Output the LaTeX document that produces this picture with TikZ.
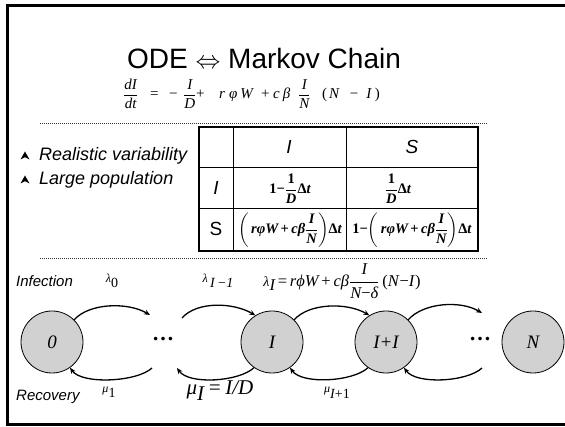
\documentclass[tikz,border=0pt]{standalone}
\usepackage{amsmath}
\usepackage{fontspec}
\setmainfont{Liberation Sans}
\newfontfamily\tms{Liberation Serif}
\usetikzlibrary{arrows.meta}
\newcommand{\tv}[1]{\text{\tms\itshape #1}}
\newcommand{\tu}[1]{\text{\tms #1}}
\newcommand{\tb}[1]{\text{\tms\bfseries\itshape #1}}
\newcommand{\tbu}[1]{\text{\tms\bfseries #1}}
\newcommand{\fs}[1]{\fontsize{#1}{#1}\selectfont}
\tikzset{
  frame/.style={line width=3pt, draw=black},
  dashline/.style={line width=0.6pt, draw=black!80, dash pattern=on 1.2pt off 0.8pt},
  state/.style={circle, draw=black, line width=0.8pt, fill=black!18, minimum size=62pt, inner sep=0pt, font=\tms\itshape\fs{19}},
  dotsnode/.style={inner sep=0pt, font=\tms\bfseries\fs{22}},
  trans/.style={line width=1.3pt, -{Stealth[length=6pt,width=5pt]}},
  lbl/.style={inner sep=0pt, font=\fs{15}\itshape},
  bul/.style={inner sep=0pt, font=\fs{18}\itshape, anchor=base west},
  cell/.style={inner sep=0pt, font=\fs{14.5}},
  hdr/.style={inner sep=0pt, font=\fs{19}\itshape},
  eqp/.style={inner sep=0pt, anchor=base west, font=\tms\fs{15}},
  glbl/.style={inner sep=0pt, font=\tms\itshape\fs{14}},
  tline/.style={line width=1pt},
  touter/.style={line width=1.8pt}
}
\begin{document}
\begin{tikzpicture}[x=1pt,y=-1pt]
\useasboundingbox (0,0) rectangle (565,427);
\fill[white] (0,0) rectangle (565,427);
\draw[frame] (7,6) rectangle (600,425);
% title
\node[anchor=base, inner sep=0pt, font=\fs{28}] (title) at (264,69) {ODE $\Leftrightarrow$ Markov Chain};
% equation pieces
\node[eqp] (e1) at (123,99) {$\displaystyle\frac{\tv{dI}}{\tv{dt}}$};
\node[eqp] (e2) at (150,99) {=};
\node[eqp] (e3) at (169,99) {−};
\node[eqp] (e4) at (183,99) {$\displaystyle\frac{\tv{I}}{\tv{D}}$};
\node[eqp] (e5) at (196,99) {+};
\node[eqp] (e6) at (219,99) {\itshape r\hspace{4pt}φ\hspace{3pt}W};
\node[eqp] (e7) at (261,99) {+};
\node[eqp] (e8) at (273,99) {\itshape c\hspace{3pt}β};
\node[eqp] (e9) at (298,99) {$\displaystyle\frac{\tv{I}}{\tv{N}}$};
\node[eqp] (e10) at (322,99) {(\hspace{2pt}\textit{N}\hspace{10pt}−\hspace{8pt}\textit{I}\hspace{3pt})};
% dashed lines
\coordinate (dl1a) at (40,123); \coordinate (dl1b) at (487,123);
\coordinate (dl2a) at (40,258); \coordinate (dl2b) at (487,258);
\draw[dashline] (dl1a) -- (dl1b);
\draw[dashline] (dl2a) -- (dl2b);
% bullets
\foreach \yy in {156,180}{
  \fill (25,\yy-4.5) -- (29.5,\yy+3.5) -- (25,\yy+1.2) -- (20.5,\yy+3.5) -- cycle;
}
\node[bul] (t1) at (39,161) {Realistic variability};
\node[bul] (t2) at (39,185) {Large population};
% table
\coordinate (tA) at (199,127); \coordinate (tB) at (478,251);
\draw[tline] (233,127) -- (233,251);
\draw[tline] (346,127) -- (346,251);
\draw[tline] (199,168) -- (478,168);
\draw[tline] (199,209) -- (478,209);
\draw[touter] (tA) rectangle (tB);
\node[hdr] (hI) at (289,147) {I};
\node[hdr] (hS) at (412,147) {S};
\node[hdr] (rI) at (216,188) {I};
\node[hdr, font=\fs{19}] (rS) at (216,229) {S};
\node[cell] (c11) at (290,189) {$\displaystyle \tbu{1−}\frac{\tbu{1}}{\tb{D}}\tbu{Δ}\tb{t}$};
\node[cell] (c12) at (398,189) {$\displaystyle \frac{\tbu{1}}{\tb{D}}\tbu{Δ}\tb{t}$};
\node[cell] (c21) at (290,230) {$\displaystyle \left(\,\tb{r}\tb{φ}\tb{W}\,\tbu{+}\,\tb{c}\tb{β}\frac{\tb{I}}{\tb{N}}\right)\!\tbu{Δ}\tb{t}$};
\node[cell] (c22) at (412,230) {$\displaystyle \tbu{1−}\!\left(\,\tb{r}\tb{φ}\tb{W}\,\tbu{+}\,\tb{c}\tb{β}\frac{\tb{I}}{\tb{N}}\right)\!\tbu{Δ}\tb{t}$};
% chain
\node[state] (n0) at (52,342) {0};
\node[state] (nI) at (272,342) {I};
\node[state] (nJ) at (386,342) {I+I};
\node[state] (nN) at (533,342) {N};
\node[dotsnode] (d1) at (163,339) {…};
\node[dotsnode] (d2) at (480,339) {…};
\coordinate (d1tr) at (150,315);
\coordinate (d1tl) at (182,318);
\coordinate (d2tr) at (482,313);
\coordinate (d1br) at (152,368);
\coordinate (d1bl) at (177,368);
\coordinate (d2br) at (482,368);
% infection arrows
\draw[trans] (n0.45) .. controls +(15,-17) and +(-22,-13) .. (d1tr);
\draw[trans] (d1tl) .. controls +(15,-17) and +(-22,-13) .. (nI.122);
\draw[trans] (nI.45) .. controls +(15,-17) and +(-22,-13) .. (nJ.122);
\draw[trans] (nJ.45) .. controls +(15,-17) and +(-22,-13) .. (d2tr);
% recovery arrows
\draw[trans] (d1br) .. controls +(-15,14) and +(12,17) .. (n0.-55);
\draw[trans] (nI.-125) .. controls +(-15,14) and +(12,17) .. (d1bl);
\draw[trans] (nJ.-125) .. controls +(-15,14) and +(12,17) .. (nI.-55);
\draw[trans] (d2br) .. controls +(-15,14) and +(12,17) .. (nJ.-55);
% labels
\node[lbl, anchor=west] (inf) at (16,281) {Infection};
\node[lbl, anchor=west] (rec) at (16,397) {Recovery};
\node[glbl] (l0) at (112,281) {{\fs{12}λ}\raisebox{-5pt}{\upshape 0}};
\node[glbl] (l1) at (218,281) {{\fs{12}λ}\raisebox{-5pt}{\,I\,−1}};
\node[inner sep=0pt, font=\tms\fs{16.5}] (l2) at (342,281) {{\itshape\fs{14}λ}\raisebox{-4pt}{\itshape I}\,=\,$\tv{rϕW}\,\tu{+}\,\tv{cβ}\dfrac{\tv{I}}{\tv{N}\tu{−}\tv{δ}}$\,(\textit{N}−\textit{I})};
\node[glbl] (m1) at (109,392) {{\fs{12}μ}\raisebox{-5pt}{\upshape 1}};
\node[inner sep=0pt, font=\tms\itshape\fs{21}] (mI) at (220,391) {μ\raisebox{-6pt}{I}\,=\,I/D};
\node[glbl] (mJ) at (337,393) {{\fs{12}μ}\raisebox{-6pt}{I\upshape +1}};
\end{tikzpicture}
\end{document}
